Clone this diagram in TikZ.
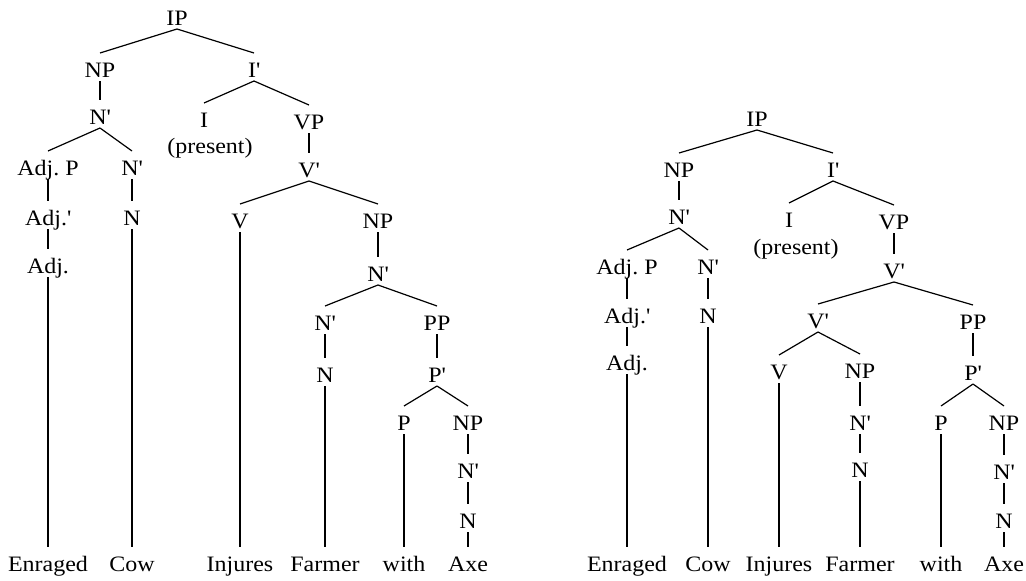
\documentclass[tikz,border=0pt]{standalone}
\usepackage{fontspec}
\setmainfont{Liberation Serif}[FakeStretch=1.09]
\newcommand{\tq}{\textquotesingle}
\newcommand{\conn}[2]{\draw[branch] ([yshift=-4pt]#1.base) -- ([yshift=24pt]#2.base);}
\begin{document}
\begin{tikzpicture}[x=1pt,y=-1pt,
  lbl/.style={anchor=base,inner sep=0pt,font=\fontsize{22}{26}\selectfont},
  branch/.style={line width=1.2pt,black}]
\useasboundingbox (0,0) rectangle (1026,581);
% ---------------- left tree ----------------
\node[lbl] (aIP) at (177,25) {IP};
\node[lbl] (aNP) at (100,77) {NP};
\node[lbl] (aIb) at (254,77) {I\tq};
\node[lbl] (aNb) at (100,124) {N\tq};
\node[lbl] (aI) at (204,127) {I};
\node[lbl] (aVP) at (309,129) {VP};
\node[lbl] (apres) at (210,153) {(present)};
\node[lbl] (aAP) at (48,175) {Adj.\ P};
\node[lbl] (aNb2) at (132,175) {N\tq};
\node[lbl] (aVb) at (309,177) {V\tq};
\node[lbl] (aAb) at (48,225) {Adj.\tq};
\node[lbl] (aN) at (132,225) {N};
\node[lbl] (aV) at (240,228) {V};
\node[lbl] (aNP2) at (378,228) {NP};
\node[lbl] (aA) at (48,273) {Adj.};
\node[lbl] (aNb3) at (378,281) {N\tq};
\node[lbl] (aNb4) at (325,330) {N\tq};
\node[lbl] (aPP) at (437,330) {PP};
\node[lbl] (aN2) at (325,382) {N};
\node[lbl] (aPb) at (437,382) {P\tq};
\node[lbl] (aP) at (404,430) {P};
\node[lbl] (aNP3) at (468,430) {NP};
\node[lbl] (aNb5) at (468,478) {N\tq};
\node[lbl] (aN3) at (468,528) {N};
\node[lbl] (aw1) at (48,571) {Enraged};
\node[lbl] (aw2) at (132,571) {Cow};
\node[lbl] (aw3) at (240,571) {Injures};
\node[lbl] (aw4) at (325,571) {Farmer};
\node[lbl] (aw5) at (404,571) {with};
\node[lbl] (aw6) at (468,571) {Axe};
\conn{aIP}{aNP} \conn{aIP}{aIb}
\conn{aNP}{aNb}
\conn{aIb}{aI} \conn{aIb}{aVP}
\conn{aNb}{aAP} \conn{aNb}{aNb2}
\conn{aVP}{aVb}
\conn{aAP}{aAb} \conn{aNb2}{aN}
\conn{aVb}{aV} \conn{aVb}{aNP2}
\conn{aAb}{aA}
\conn{aNP2}{aNb3}
\conn{aNb3}{aNb4} \conn{aNb3}{aPP}
\conn{aNb4}{aN2} \conn{aPP}{aPb}
\conn{aPb}{aP} \conn{aPb}{aNP3}
\conn{aNP3}{aNb5} \conn{aNb5}{aN3}
\conn{aA}{aw1} \conn{aN}{aw2} \conn{aV}{aw3} \conn{aN2}{aw4} \conn{aP}{aw5} \conn{aN3}{aw6}
% ---------------- right tree ----------------
\node[lbl] (bIP) at (757,126) {IP};
\node[lbl] (bNP) at (679,177) {NP};
\node[lbl] (bIb) at (833,177) {I\tq};
\node[lbl] (bNb) at (679,224) {N\tq};
\node[lbl] (bI) at (789,227) {I};
\node[lbl] (bVP) at (894,229) {VP};
\node[lbl] (bpres) at (796,254) {(present)};
\node[lbl] (bAP) at (627,274) {Adj.\ P};
\node[lbl] (bNb2) at (708,274) {N\tq};
\node[lbl] (bVb) at (894,278) {V\tq};
\node[lbl] (bAb) at (627,323) {Adj.\tq};
\node[lbl] (bN) at (708,323) {N};
\node[lbl] (bVb2) at (818,328) {V\tq};
\node[lbl] (bPP) at (973,329) {PP};
\node[lbl] (bA) at (627,370) {Adj.};
\node[lbl] (bV) at (779,379) {V};
\node[lbl] (bNP2) at (860,378) {NP};
\node[lbl] (bPb) at (973,380) {P\tq};
\node[lbl] (bNb3) at (860,430) {N\tq};
\node[lbl] (bP) at (941,430) {P};
\node[lbl] (bNP3) at (1004,430) {NP};
\node[lbl] (bN2) at (860,477) {N};
\node[lbl] (bNb4) at (1004,479) {N\tq};
\node[lbl] (bN3) at (1004,528) {N};
\node[lbl] (bw1) at (627,571) {Enraged};
\node[lbl] (bw2) at (708,571) {Cow};
\node[lbl] (bw3) at (779,571) {Injures};
\node[lbl] (bw4) at (860,571) {Farmer};
\node[lbl] (bw5) at (941,571) {with};
\node[lbl] (bw6) at (1004,571) {Axe};
\conn{bIP}{bNP} \conn{bIP}{bIb}
\conn{bNP}{bNb}
\conn{bIb}{bI} \conn{bIb}{bVP}
\conn{bNb}{bAP} \conn{bNb}{bNb2}
\conn{bVP}{bVb}
\conn{bAP}{bAb} \conn{bNb2}{bN}
\conn{bVb}{bVb2} \conn{bVb}{bPP}
\conn{bAb}{bA}
\conn{bVb2}{bV} \conn{bVb2}{bNP2}
\conn{bPP}{bPb}
\conn{bNP2}{bNb3}
\conn{bPb}{bP} \conn{bPb}{bNP3}
\conn{bNb3}{bN2} \conn{bNP3}{bNb4} \conn{bNb4}{bN3}
\conn{bA}{bw1} \conn{bN}{bw2} \conn{bV}{bw3} \conn{bN2}{bw4} \conn{bP}{bw5} \conn{bN3}{bw6}
\end{tikzpicture}
\end{document}
